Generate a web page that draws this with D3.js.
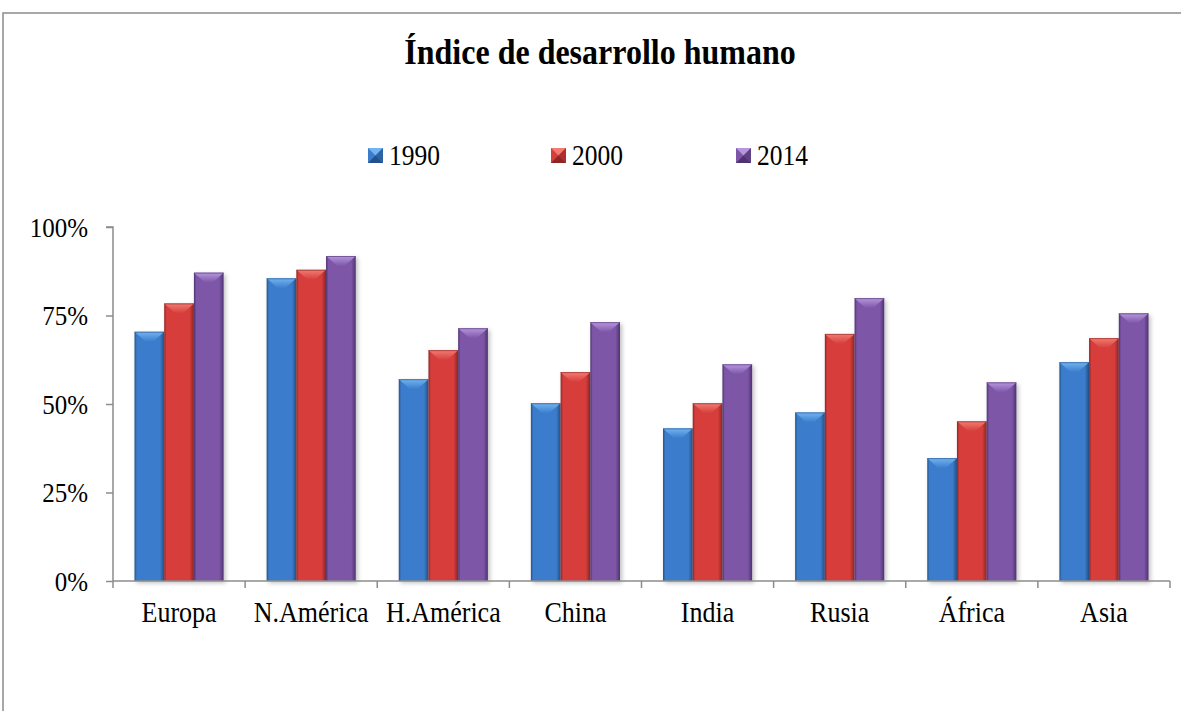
<!DOCTYPE html>
<html><head><meta charset="utf-8">
<script src="https://cdn.jsdelivr.net/npm/d3@7"></script>
<style>
html,body{margin:0;padding:0;background:#fff;}
svg{display:block;font-family:"Liberation Serif","Times New Roman",serif;}
</style></head>
<body>
<svg id="chart" width="1181" height="711"></svg>
<script>
const categories = ["Europa","N.América","H.América","China","India","Rusia","África","Asia"];
const seriesNames = ["1990","2000","2014"];
const values1990 = [70.4, 85.5, 57.0, 50.2, 43.1, 47.6, 34.7, 61.8];
const values2000 = [78.4, 87.9, 65.2, 59.0, 50.2, 69.8, 45.1, 68.6];
const values2014 = [87.1, 91.8, 71.4, 73.1, 61.2, 79.9, 56.1, 75.6];
const yTicks = [0, 25, 50, 75, 100];
const titleText = "Índice de desarrollo humano";

const seriesValues = [values1990, values2000, values2014];
const colors = [
  {base:"#3b7dcc", light:"#72b4f0", dark:"#24518a"},
  {base:"#d63d3b", light:"#f27c72", dark:"#8f2524"},
  {base:"#7d56a8", light:"#b697de", dark:"#4e3370"}
];
const SY = 1.12; // vertical stretch of text

const svg = d3.select("#chart");
const defs = svg.append("defs");
colors.forEach((c,i)=>{
  const g = defs.append("linearGradient").attr("id","grad"+i).attr("x1","0").attr("x2","1").attr("y1","0").attr("y2","0");
  g.append("stop").attr("offset","0%").attr("stop-color",c.dark);
  g.append("stop").attr("offset","8%").attr("stop-color",c.base);
  g.append("stop").attr("offset","50%").attr("stop-color",c.base);
  g.append("stop").attr("offset","85%").attr("stop-color",c.base);
  g.append("stop").attr("offset","100%").attr("stop-color",c.dark);
  const t = defs.append("linearGradient").attr("id","cap"+i).attr("x1","0").attr("x2","0").attr("y1","0").attr("y2","1");
  t.append("stop").attr("offset","0%").attr("stop-color",c.light);
  t.append("stop").attr("offset","100%").attr("stop-color",c.base);
});
const filt = defs.append("filter").attr("id","shadow").attr("x","-20%").attr("y","-5%").attr("width","150%").attr("height","115%");
filt.append("feDropShadow").attr("dx",2).attr("dy",2).attr("stdDeviation",2).attr("flood-color","#000").attr("flood-opacity",0.25);

function stretchedText(parent, x, yy, txt, size, anchor, bold){
  const t = parent.append("text")
    .attr("transform",`translate(${x},${yy}) scale(1,${SY})`)
    .attr("text-anchor",anchor).attr("font-size",size).attr("fill","#000").text(txt);
  if(bold) t.attr("font-weight","bold");
  return t;
}

// frame
svg.append("rect").attr("x",3).attr("y",13).attr("width",1190).attr("height",720)
  .attr("fill","none").attr("stroke","#8c8c8c").attr("stroke-width",1.5);

const plotLeft = 113, plotRight = 1170, plotTop = 227, plotBottom = 581;
const x0 = d3.scaleBand().domain(categories).range([plotLeft,plotRight]).padding(0);
const inner = 21.5;
const x1 = d3.scaleBand().domain(seriesNames).range([inner, x0.bandwidth()-inner]).padding(0);
const y = d3.scaleLinear().domain([0,100]).range([plotBottom, plotTop]);

// title
stretchedText(svg, 600, 64, titleText, 32, "middle", true);

// legend
const legendX = [368, 551, 736];
seriesNames.forEach((s,i)=>{
  const lg = svg.append("g").attr("transform",`translate(${legendX[i]},148)`);
  const c = colors[i];
  lg.append("rect").attr("width",15).attr("height",15).attr("fill",c.base);
  lg.append("polygon").attr("points","0,0 15,0 7.5,7.5").attr("fill",c.light);
  lg.append("polygon").attr("points","0,15 15,15 7.5,7.5").attr("fill",c.dark);
  lg.append("polygon").attr("points","15,0 15,15 7.5,7.5").attr("fill",c.dark).attr("opacity",0.6);
  stretchedText(lg, 21, 17, s, 25.5, "start", false);
});

// bars
const gBars = svg.append("g");
categories.forEach((cat,ci)=>{
  seriesNames.forEach((s,si)=>{
    const v = seriesValues[si][ci];
    const bx = x0(cat) + x1(s), bw = x1.bandwidth();
    const by = y(v), bh = y(0) - y(v);
    const g = gBars.append("g");
    g.append("rect").attr("x",bx).attr("y",by).attr("width",bw).attr("height",bh)
      .attr("fill",`url(#grad${si})`).attr("filter","url(#shadow)");
    const capH = 10;
    g.append("polygon")
      .attr("points",`${bx},${by} ${bx+bw},${by} ${bx+bw*0.62},${by+capH} ${bx+bw*0.38},${by+capH}`)
      .attr("fill",`url(#cap${si})`);
    g.append("line").attr("x1",bx).attr("x2",bx+bw).attr("y1",by+0.5).attr("y2",by+0.5)
      .attr("stroke",colors[si].dark).attr("stroke-width",1).attr("opacity",0.6);
  });
});

// axes
const yAxis = d3.axisLeft(y).tickValues(yTicks).tickFormat(()=>"").tickSize(7);
const ya = svg.append("g").attr("transform",`translate(${plotLeft},0)`).call(yAxis);
ya.select(".domain").attr("stroke","#8c8c8c").attr("stroke-width",1.5).attr("d",`M-7,${plotTop}H0V${plotBottom}`);
ya.selectAll(".tick line").attr("stroke","#8c8c8c").attr("stroke-width",1.5);
const yl = svg.append("g");
yTicks.forEach(t=>{
  stretchedText(yl, 88, y(t) + 9.5, t + "%", 25, "end", false);
});

const xa = svg.append("g").attr("transform",`translate(0,${plotBottom})`);
xa.append("line").attr("x1",plotLeft).attr("x2",plotRight).attr("y1",0).attr("y2",0).attr("stroke","#8c8c8c").attr("stroke-width",1.5);
const boundaries = categories.map(c=>x0(c)).concat([plotRight]);
xa.selectAll(".bt").data(boundaries).enter().append("line")
  .attr("x1",d=>d).attr("x2",d=>d).attr("y1",0).attr("y2",7).attr("stroke","#8c8c8c").attr("stroke-width",1.5);
categories.forEach(c=>{
  stretchedText(xa, x0(c)+x0.bandwidth()/2, 41, c, 26, "middle", false);
});
</script>
</body></html>
